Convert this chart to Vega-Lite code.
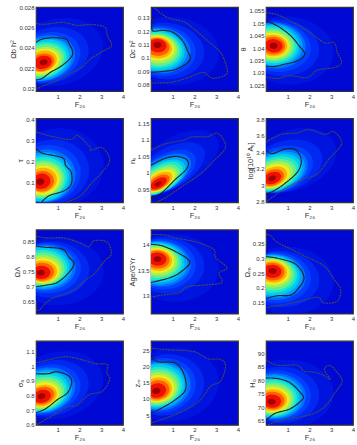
{"$schema":"https://vega.github.io/schema/vega-lite/v6.json","background":"white","padding":{"left":9,"top":3,"right":0,"bottom":0},"columns":3,"bounds":"flush","spacing":{"row":27.3,"column":28},
"config":{"view":{"stroke":"#333","strokeWidth":1.2,"fill":"#0008d4"},"font":"Liberation Sans","range":{"ordinal":["#0014e0","#0028f0","#0040ff","#0070ff","#00a0ff","#00ccf0","#20e8c8","#60f090","#a8f050","#e8f020","#ffb000","#ff6000","#f01000","#a00000"]},"axis":{"grid":false,"domain":false,"ticks":false,"labelFontSize":6,"titleFontSize":7.5,"titleFontWeight":"normal","labelColor":"#333","titleColor":"#333","labelPadding":2,"titlePadding":1,"labelFlush":false}},
"datasets":{
"f1":[{"l":1,"x":1,"y":0.0236},{"l":2,"x":0.7,"y":0.0233},{"l":3,"x":0.5,"y":0.0231},{"l":4,"x":0.4,"y":0.023},{"l":5,"x":0.35,"y":0.0229},{"l":6,"x":0.3,"y":0.0229},{"l":7,"x":0.3,"y":0.0228},{"l":8,"x":0.3,"y":0.0228},{"l":9,"x":0.3,"y":0.0227},{"l":10,"x":0.3,"y":0.0227},{"l":11,"x":0.3,"y":0.0227},{"l":12,"x":0.3,"y":0.0226},{"l":13,"x":0.32,"y":0.0226},{"l":14,"x":0.35,"y":0.0226}],
"c1":[{"c":1,"x":0,"y":0.02454},{"c":1,"x":0.29,"y":0.02487},{"c":1,"x":0.83,"y":0.025},{"c":1,"x":1.36,"y":0.02487},{"c":1,"x":1.55,"y":0.02431},{"c":1,"x":1.69,"y":0.02359},{"c":1,"x":1.56,"y":0.02294},{"c":1,"x":1.13,"y":0.02219},{"c":1,"x":0.67,"y":0.02163},{"c":1,"x":0.29,"y":0.02104},{"c":1,"x":0,"y":0.02088},{"c":2,"x":0,"y":0.02643},{"c":2,"x":0.37,"y":0.0263},{"c":2,"x":1.21,"y":0.0265},{"c":2,"x":1.9,"y":0.0262},{"c":2,"x":2.51,"y":0.0263},{"c":2,"x":3.16,"y":0.02604},{"c":2,"x":3.28,"y":0.02522},{"c":2,"x":3.48,"y":0.02424},{"c":2,"x":3.13,"y":0.02375},{"c":2,"x":2.51,"y":0.02294},{"c":2,"x":2.13,"y":0.02212},{"c":2,"x":1.67,"y":0.02163},{"c":2,"x":0.98,"y":0.02082},{"c":2,"x":0.37,"y":0.02033},{"c":2,"x":0,"y":0.01997}],
"f2":[{"l":1,"x":1,"y":0.105},{"l":2,"x":0.7,"y":0.105},{"l":3,"x":0.5,"y":0.1052},{"l":4,"x":0.4,"y":0.1054},{"l":5,"x":0.35,"y":0.1055},{"l":6,"x":0.3,"y":0.1055},{"l":7,"x":0.3,"y":0.1058},{"l":8,"x":0.3,"y":0.106},{"l":9,"x":0.3,"y":0.1065},{"l":10,"x":0.3,"y":0.107},{"l":11,"x":0.3,"y":0.1075},{"l":12,"x":0.3,"y":0.108},{"l":13,"x":0.3,"y":0.109},{"l":14,"x":0.3,"y":0.1095}],
"c2":[{"c":1,"x":0.09,"y":0.1305},{"c":1,"x":0.06,"y":0.1205},{"c":1,"x":0.52,"y":0.1205},{"c":1,"x":0.98,"y":0.1192},{"c":1,"x":1.44,"y":0.1129},{"c":1,"x":1.67,"y":0.1054},{"c":1,"x":1.79,"y":0.0983},{"c":1,"x":1.21,"y":0.0916},{"c":1,"x":0.6,"y":0.0898},{"c":1,"x":0,"y":0.089},{"c":2,"x":0.14,"y":0.1375},{"c":2,"x":0.52,"y":0.1325},{"c":2,"x":0.9,"y":0.1292},{"c":2,"x":1.52,"y":0.1267},{"c":2,"x":2.05,"y":0.1205},{"c":2,"x":2.67,"y":0.1117},{"c":2,"x":3.2,"y":0.1041},{"c":2,"x":3.43,"y":0.0953},{"c":2,"x":3.48,"y":0.0878},{"c":2,"x":2.9,"y":0.0845},{"c":2,"x":2.62,"y":0.0865},{"c":2,"x":2.36,"y":0.089},{"c":2,"x":1.67,"y":0.0848},{"c":2,"x":0.9,"y":0.0815},{"c":2,"x":0,"y":0.081}],
"f3":[{"l":1,"x":1,"y":1.039},{"l":2,"x":0.7,"y":1.04},{"l":3,"x":0.5,"y":1.0405},{"l":4,"x":0.4,"y":1.041},{"l":5,"x":0.35,"y":1.0412},{"l":6,"x":0.3,"y":1.0412},{"l":7,"x":0.3,"y":1.0412},{"l":8,"x":0.3,"y":1.0412},{"l":9,"x":0.3,"y":1.0411},{"l":10,"x":0.3,"y":1.0411},{"l":11,"x":0.32,"y":1.041},{"l":12,"x":0.33,"y":1.041},{"l":13,"x":0.35,"y":1.0409},{"l":14,"x":0.35,"y":1.0409}],
"c3":[{"c":1,"x":0,"y":1.0508},{"c":1,"x":0.52,"y":1.049},{"c":1,"x":1.13,"y":1.045},{"c":1,"x":1.52,"y":1.0409},{"c":1,"x":1.78,"y":1.0375},{"c":1,"x":1.44,"y":1.0348},{"c":1,"x":0.83,"y":1.0334},{"c":1,"x":0.37,"y":1.0325},{"c":1,"x":0,"y":1.0327},{"c":2,"x":0,"y":1.0543},{"c":2,"x":0.52,"y":1.0535},{"c":2,"x":1.13,"y":1.0508},{"c":2,"x":1.9,"y":1.047},{"c":2,"x":2.67,"y":1.0422},{"c":2,"x":3.13,"y":1.0422},{"c":2,"x":3.28,"y":1.0382},{"c":2,"x":3.48,"y":1.0341},{"c":2,"x":3.13,"y":1.0321},{"c":2,"x":2.36,"y":1.031},{"c":2,"x":1.9,"y":1.028},{"c":2,"x":1.13,"y":1.0288},{"c":2,"x":0.52,"y":1.0277},{"c":2,"x":0,"y":1.0283}],
"f4":[{"l":1,"x":1,"y":0.17},{"l":2,"x":0.7,"y":0.15},{"l":3,"x":0.5,"y":0.14},{"l":4,"x":0.4,"y":0.13},{"l":5,"x":0.35,"y":0.125},{"l":6,"x":0.3,"y":0.12},{"l":7,"x":0.3,"y":0.12},{"l":8,"x":0.3,"y":0.115},{"l":9,"x":0.3,"y":0.115},{"l":10,"x":0.3,"y":0.11},{"l":11,"x":0.3,"y":0.11},{"l":12,"x":0.28,"y":0.105},{"l":13,"x":0.25,"y":0.105},{"l":14,"x":0.2,"y":0.103}],
"c4":[{"c":1,"x":0,"y":0.265},{"c":1,"x":0.29,"y":0.239},{"c":1,"x":1.21,"y":0.217},{"c":1,"x":1.36,"y":0.18},{"c":1,"x":1.62,"y":0.148},{"c":1,"x":1.62,"y":0.092},{"c":1,"x":1.29,"y":0.06},{"c":1,"x":0.6,"y":0.036},{"c":1,"x":0.25,"y":0.005},{"c":2,"x":0,"y":0.341},{"c":2,"x":0.67,"y":0.32},{"c":2,"x":1.59,"y":0.304},{"c":2,"x":1.93,"y":0.323},{"c":2,"x":2.48,"y":0.268},{"c":2,"x":2.51,"y":0.252},{"c":2,"x":3.05,"y":0.265},{"c":2,"x":3.39,"y":0.204},{"c":2,"x":2.97,"y":0.14},{"c":2,"x":2.51,"y":0.092},{"c":2,"x":2.05,"y":0.036},{"c":2,"x":1.36,"y":0.005}],
"f5":[{"l":1,"x":1.2,"y":1.035},{"l":2,"x":0.9,"y":1.015},{"l":3,"x":0.65,"y":1},{"l":4,"x":0.55,"y":0.995},{"l":5,"x":0.5,"y":0.99},{"l":6,"x":0.45,"y":0.985},{"l":7,"x":0.45,"y":0.983},{"l":8,"x":0.42,"y":0.98},{"l":9,"x":0.4,"y":0.977},{"l":10,"x":0.4,"y":0.975},{"l":11,"x":0.38,"y":0.973},{"l":12,"x":0.36,"y":0.97},{"l":13,"x":0.35,"y":0.968},{"l":14,"x":0.33,"y":0.966}],
"c5":[{"c":1,"x":0,"y":1.022},{"c":1,"x":0.6,"y":1.042},{"c":1,"x":1.21,"y":1.049},{"c":1,"x":1.67,"y":1.037},{"c":1,"x":1.64,"y":1.012},{"c":1,"x":1.06,"y":0.976},{"c":1,"x":0.52,"y":0.94},{"c":1,"x":0,"y":0.921},{"c":2,"x":0,"y":1.068},{"c":2,"x":0.6,"y":1.086},{"c":2,"x":1.52,"y":1.099},{"c":2,"x":1.9,"y":1.109},{"c":2,"x":2.59,"y":1.109},{"c":2,"x":3.08,"y":1.119},{"c":2,"x":3.43,"y":1.078},{"c":2,"x":2.9,"y":1.037},{"c":2,"x":2.28,"y":0.996},{"c":2,"x":1.36,"y":0.955},{"c":2,"x":0.67,"y":0.924},{"c":2,"x":0.21,"y":0.91}],
"f6":[{"l":1,"x":1.2,"y":3.3},{"l":2,"x":0.9,"y":3.23},{"l":3,"x":0.65,"y":3.19},{"l":4,"x":0.55,"y":3.17},{"l":5,"x":0.5,"y":3.16},{"l":6,"x":0.45,"y":3.15},{"l":7,"x":0.42,"y":3.14},{"l":8,"x":0.4,"y":3.13},{"l":9,"x":0.38,"y":3.12},{"l":10,"x":0.35,"y":3.11},{"l":11,"x":0.33,"y":3.1},{"l":12,"x":0.3,"y":3.09},{"l":13,"x":0.3,"y":3.085},{"l":14,"x":0.28,"y":3.08}],
"c6":[{"c":1,"x":0,"y":3.429},{"c":1,"x":0.29,"y":3.38},{"c":1,"x":0.83,"y":3.433},{"c":1,"x":1.36,"y":3.429},{"c":1,"x":1.62,"y":3.298},{"c":1,"x":1.44,"y":3.155},{"c":1,"x":0.83,"y":3.012},{"c":1,"x":0.37,"y":2.931},{"c":1,"x":0,"y":2.89},{"c":2,"x":0,"y":3.522},{"c":2,"x":0.67,"y":3.612},{"c":2,"x":1.44,"y":3.633},{"c":2,"x":1.98,"y":3.673},{"c":2,"x":2.67,"y":3.616},{"c":2,"x":3.13,"y":3.645},{"c":2,"x":3.48,"y":3.502},{"c":2,"x":2.9,"y":3.318},{"c":2,"x":2.36,"y":3.135},{"c":2,"x":1.75,"y":3.073},{"c":2,"x":0.83,"y":2.951},{"c":2,"x":0,"y":2.792}],
"f7":[{"l":1,"x":1,"y":0.75},{"l":2,"x":0.7,"y":0.755},{"l":3,"x":0.5,"y":0.76},{"l":4,"x":0.4,"y":0.762},{"l":5,"x":0.35,"y":0.762},{"l":6,"x":0.3,"y":0.762},{"l":7,"x":0.3,"y":0.76},{"l":8,"x":0.3,"y":0.758},{"l":9,"x":0.3,"y":0.755},{"l":10,"x":0.3,"y":0.752},{"l":11,"x":0.3,"y":0.75},{"l":12,"x":0.28,"y":0.748},{"l":13,"x":0.25,"y":0.746},{"l":14,"x":0.22,"y":0.745}],
"c7":[{"c":1,"x":0,"y":0.835},{"c":1,"x":0.37,"y":0.83},{"c":1,"x":1.21,"y":0.824},{"c":1,"x":1.52,"y":0.796},{"c":1,"x":1.75,"y":0.776},{"c":1,"x":1.52,"y":0.746},{"c":1,"x":0.98,"y":0.712},{"c":1,"x":0.44,"y":0.703},{"c":1,"x":0,"y":0.698},{"c":2,"x":0,"y":0.867},{"c":2,"x":0.52,"y":0.861},{"c":2,"x":1.29,"y":0.861},{"c":2,"x":2.05,"y":0.843},{"c":2,"x":2.43,"y":0.832},{"c":2,"x":2.67,"y":0.852},{"c":2,"x":3.28,"y":0.847},{"c":2,"x":3.46,"y":0.807},{"c":2,"x":3.16,"y":0.785},{"c":2,"x":2.74,"y":0.746},{"c":2,"x":2.28,"y":0.72},{"c":2,"x":1.67,"y":0.684},{"c":2,"x":0.67,"y":0.656},{"c":2,"x":0.18,"y":0.622},{"c":2,"x":0,"y":0.619}],
"f8":[{"l":1,"x":1,"y":13.55},{"l":2,"x":0.7,"y":13.6},{"l":3,"x":0.5,"y":13.62},{"l":4,"x":0.4,"y":13.63},{"l":5,"x":0.35,"y":13.64},{"l":6,"x":0.3,"y":13.65},{"l":7,"x":0.3,"y":13.66},{"l":8,"x":0.3,"y":13.67},{"l":9,"x":0.3,"y":13.68},{"l":10,"x":0.3,"y":13.69},{"l":11,"x":0.3,"y":13.7},{"l":12,"x":0.3,"y":13.71},{"l":13,"x":0.3,"y":13.72},{"l":14,"x":0.3,"y":13.72}],
"c8":[{"c":1,"x":0,"y":14.01},{"c":1,"x":0.52,"y":13.98},{"c":1,"x":1.21,"y":13.85},{"c":1,"x":1.78,"y":13.67},{"c":1,"x":1.44,"y":13.49},{"c":1,"x":0.9,"y":13.36},{"c":1,"x":0,"y":13.26},{"c":2,"x":0,"y":14.2},{"c":2,"x":0.52,"y":14.2},{"c":2,"x":1.21,"y":14.13},{"c":2,"x":2.13,"y":14.05},{"c":2,"x":2.89,"y":13.91},{"c":2,"x":2.97,"y":13.75},{"c":2,"x":3.5,"y":13.55},{"c":2,"x":3.13,"y":13.45},{"c":2,"x":3.25,"y":13.26},{"c":2,"x":2.44,"y":13.21},{"c":2,"x":1.67,"y":13.18},{"c":2,"x":1.29,"y":13.06},{"c":2,"x":0.44,"y":13.01},{"c":2,"x":0,"y":12.97}],
"f9":[{"l":1,"x":1,"y":0.225},{"l":2,"x":0.7,"y":0.23},{"l":3,"x":0.5,"y":0.235},{"l":4,"x":0.4,"y":0.237},{"l":5,"x":0.35,"y":0.24},{"l":6,"x":0.3,"y":0.242},{"l":7,"x":0.3,"y":0.245},{"l":8,"x":0.3,"y":0.247},{"l":9,"x":0.3,"y":0.25},{"l":10,"x":0.3,"y":0.252},{"l":11,"x":0.3,"y":0.254},{"l":12,"x":0.3,"y":0.255},{"l":13,"x":0.3,"y":0.256},{"l":14,"x":0.3,"y":0.257}],
"c9":[{"c":1,"x":0,"y":0.305},{"c":1,"x":0.52,"y":0.3},{"c":1,"x":1.36,"y":0.28},{"c":1,"x":1.75,"y":0.235},{"c":1,"x":1.44,"y":0.195},{"c":1,"x":1.13,"y":0.176},{"c":1,"x":0.52,"y":0.174},{"c":1,"x":0,"y":0.165},{"c":2,"x":0,"y":0.379},{"c":2,"x":0.21,"y":0.376},{"c":2,"x":0.52,"y":0.353},{"c":2,"x":1.13,"y":0.331},{"c":2,"x":1.9,"y":0.303},{"c":2,"x":2.67,"y":0.274},{"c":2,"x":3.13,"y":0.229},{"c":2,"x":3.43,"y":0.195},{"c":2,"x":3.28,"y":0.156},{"c":2,"x":2.67,"y":0.15},{"c":2,"x":2.36,"y":0.169},{"c":2,"x":1.59,"y":0.156},{"c":2,"x":0.67,"y":0.142},{"c":2,"x":0,"y":0.135}],
"f10":[{"l":1,"x":1,"y":0.87},{"l":2,"x":0.7,"y":0.85},{"l":3,"x":0.5,"y":0.84},{"l":4,"x":0.4,"y":0.835},{"l":5,"x":0.35,"y":0.83},{"l":6,"x":0.3,"y":0.825},{"l":7,"x":0.3,"y":0.82},{"l":8,"x":0.3,"y":0.815},{"l":9,"x":0.3,"y":0.81},{"l":10,"x":0.3,"y":0.805},{"l":11,"x":0.3,"y":0.8},{"l":12,"x":0.3,"y":0.8},{"l":13,"x":0.28,"y":0.795},{"l":14,"x":0.25,"y":0.795}],
"c10":[{"c":1,"x":0,"y":0.949},{"c":1,"x":0.52,"y":0.949},{"c":1,"x":0.98,"y":0.962},{"c":1,"x":1.52,"y":0.933},{"c":1,"x":1.64,"y":0.887},{"c":1,"x":1.44,"y":0.818},{"c":1,"x":0.98,"y":0.772},{"c":1,"x":0.44,"y":0.71},{"c":1,"x":0,"y":0.683},{"c":2,"x":0,"y":1.024},{"c":2,"x":0.67,"y":1.047},{"c":2,"x":1.36,"y":1.066},{"c":2,"x":2.05,"y":1.047},{"c":2,"x":2.74,"y":1.017},{"c":2,"x":3.28,"y":1.013},{"c":2,"x":3.25,"y":0.956},{"c":2,"x":3.39,"y":0.91},{"c":2,"x":3.05,"y":0.829},{"c":2,"x":2.44,"y":0.806},{"c":2,"x":1.9,"y":0.733},{"c":2,"x":1.52,"y":0.726},{"c":2,"x":0.83,"y":0.669},{"c":2,"x":0,"y":0.6}],
"f11":[{"l":1,"x":1,"y":14.5},{"l":2,"x":0.7,"y":14.3},{"l":3,"x":0.5,"y":14.2},{"l":4,"x":0.4,"y":14.1},{"l":5,"x":0.35,"y":14},{"l":6,"x":0.3,"y":14},{"l":7,"x":0.3,"y":13.8},{"l":8,"x":0.3,"y":13.6},{"l":9,"x":0.3,"y":13.4},{"l":10,"x":0.3,"y":13.2},{"l":11,"x":0.3,"y":13},{"l":12,"x":0.3,"y":12.8},{"l":13,"x":0.28,"y":12.6},{"l":14,"x":0.25,"y":12.5}],
"c11":[{"c":1,"x":0.03,"y":23.2},{"c":1,"x":0.29,"y":21.5},{"c":1,"x":1.13,"y":21},{"c":1,"x":1.52,"y":17.5},{"c":1,"x":1.59,"y":12.9},{"c":1,"x":1.13,"y":9.8},{"c":1,"x":0.44,"y":7},{"c":1,"x":0,"y":5.7},{"c":2,"x":0,"y":25.6},{"c":2,"x":0.9,"y":25.1},{"c":2,"x":1.98,"y":24.6},{"c":2,"x":2.62,"y":22.4},{"c":2,"x":3.2,"y":22.2},{"c":2,"x":3.43,"y":20.1},{"c":2,"x":3.2,"y":15.5},{"c":2,"x":2.74,"y":13.9},{"c":2,"x":2.28,"y":9.8},{"c":2,"x":1.75,"y":7.2},{"c":2,"x":0.9,"y":4.6},{"c":2,"x":0,"y":2.6}],
"f12":[{"l":1,"x":1,"y":75},{"l":2,"x":0.7,"y":74.5},{"l":3,"x":0.5,"y":74.2},{"l":4,"x":0.4,"y":74},{"l":5,"x":0.35,"y":73.8},{"l":6,"x":0.3,"y":73.6},{"l":7,"x":0.3,"y":73.4},{"l":8,"x":0.3,"y":73.2},{"l":9,"x":0.3,"y":73},{"l":10,"x":0.3,"y":72.8},{"l":11,"x":0.3,"y":72.6},{"l":12,"x":0.3,"y":72.4},{"l":13,"x":0.28,"y":72.2},{"l":14,"x":0.25,"y":72}],
"c12":[{"c":1,"x":0,"y":80.8},{"c":1,"x":0.57,"y":80.5},{"c":1,"x":1.12,"y":78.9},{"c":1,"x":1.66,"y":74.6},{"c":1,"x":1.66,"y":72.7},{"c":1,"x":1.12,"y":69.4},{"c":1,"x":0.42,"y":67.7},{"c":1,"x":0,"y":65},{"c":2,"x":0,"y":87.6},{"c":2,"x":0.5,"y":85.5},{"c":2,"x":1.43,"y":85.5},{"c":2,"x":1.74,"y":83.3},{"c":2,"x":2.12,"y":83},{"c":2,"x":2.6,"y":82},{"c":2,"x":2.96,"y":80.2},{"c":2,"x":2.68,"y":83.9},{"c":2,"x":2.92,"y":85.4},{"c":2,"x":3.23,"y":83.3},{"c":2,"x":3.5,"y":79.6},{"c":2,"x":3.16,"y":75.2},{"c":2,"x":2.7,"y":70.2},{"c":2,"x":2,"y":67.1},{"c":2,"x":0.73,"y":65.2},{"c":2,"x":0,"y":63.1}]
},
"concat":[
{"width":87,"height":84,"layer":[{"data":{"name":"f1"},"mark":{"type":"point","filled":true,"opacity":1,"clip":true,"shape":"M0.966 -0.259 C1.069 0.125 0.72 0.553 0.186 0.696 C-0.348 0.839 -0.863 0.643 -0.966 0.259 C-1.069 -0.125 -0.72 -0.553 -0.186 -0.696 C0.348 -0.839 0.863 -0.643 0.966 -0.259 Z"},"encoding":{"x":{"field":"x","type":"quantitative","scale":{"domain":[0,4],"nice":false},"axis":{"format":"d","tickCount":20,"values":[1,2,3,4],"title":"F₂₆"}},"y":{"field":"y","type":"quantitative","scale":{"domain":[0.0198,0.028],"nice":false,"zero":false},"axis":{"tickCount":20,"values":[0.02,0.022,0.024,0.026,0.028],"format":".3~f","title":"Ωb h²"}},"size":{"field":"l","type":"ordinal","scale":{"type":"ordinal","range":[8464,5776,4624,3844,3364,2916,2401,1936,1521,1156,841,576,324,64]},"legend":null},"color":{"field":"l","type":"ordinal","legend":null}}},{"data":{"name":"c1"},"mark":{"type":"line","interpolate":"cardinal","clip":true,"strokeWidth":1.1},"encoding":{"x":{"field":"x","type":"quantitative"},"y":{"field":"y","type":"quantitative"},"order":{"value":null},"stroke":{"field":"c","type":"nominal","scale":{"range":["#222","#4a4a50"]},"legend":null},"strokeDash":{"field":"c","type":"nominal","scale":{"range":[[1,0],[2,0.8]]},"legend":null}}}]},
{"width":87,"height":84,"layer":[{"data":{"name":"f2"},"mark":{"type":"point","filled":true,"opacity":1,"clip":true,"shape":"M0.996 0.087 C0.96 0.494 0.486 0.785 -0.064 0.737 C-0.614 0.689 -1.032 0.32 -0.996 -0.087 C-0.96 -0.494 -0.486 -0.785 0.064 -0.737 C0.614 -0.689 1.032 -0.32 0.996 0.087 Z"},"encoding":{"x":{"field":"x","type":"quantitative","scale":{"domain":[0,4],"nice":false},"axis":{"format":"d","tickCount":20,"values":[1,2,3,4],"title":"F₂₆"}},"y":{"field":"y","type":"quantitative","scale":{"domain":[0.075,0.138],"nice":false,"zero":false},"axis":{"tickCount":20,"values":[0.08,0.09,0.1,0.11,0.12,0.13],"format":".2~f","title":"Ωc h²"}},"size":{"field":"l","type":"ordinal","scale":{"type":"ordinal","range":[8464,5776,4624,3844,3364,2916,2401,1936,1521,1156,841,576,324,64]},"legend":null},"color":{"field":"l","type":"ordinal","legend":null}}},{"data":{"name":"c2"},"mark":{"type":"line","interpolate":"cardinal","clip":true,"strokeWidth":1.1},"encoding":{"x":{"field":"x","type":"quantitative"},"y":{"field":"y","type":"quantitative"},"order":{"value":null},"stroke":{"field":"c","type":"nominal","scale":{"range":["#222","#4a4a50"]},"legend":null},"strokeDash":{"field":"c","type":"nominal","scale":{"range":[[1,0],[2,0.8]]},"legend":null}}}]},
{"width":87,"height":84,"layer":[{"data":{"name":"f3"},"mark":{"type":"point","filled":true,"opacity":1,"clip":true,"shape":"M0.996 0.087 C0.96 0.494 0.486 0.785 -0.064 0.737 C-0.614 0.689 -1.032 0.32 -0.996 -0.087 C-0.96 -0.494 -0.486 -0.785 0.064 -0.737 C0.614 -0.689 1.032 -0.32 0.996 0.087 Z"},"encoding":{"x":{"field":"x","type":"quantitative","scale":{"domain":[0,4],"nice":false},"axis":{"format":"d","tickCount":20,"values":[1,2,3,4],"title":"F₂₆"}},"y":{"field":"y","type":"quantitative","scale":{"domain":[1.0226,1.0566],"nice":false,"zero":false},"axis":{"tickCount":20,"values":[1.025,1.03,1.035,1.04,1.045,1.05,1.055],"format":".3~f","title":"θ"}},"size":{"field":"l","type":"ordinal","scale":{"type":"ordinal","range":[8464,5776,4624,3844,3364,2916,2401,1936,1521,1156,841,576,324,64]},"legend":null},"color":{"field":"l","type":"ordinal","legend":null}}},{"data":{"name":"c3"},"mark":{"type":"line","interpolate":"cardinal","clip":true,"strokeWidth":1.1},"encoding":{"x":{"field":"x","type":"quantitative"},"y":{"field":"y","type":"quantitative"},"order":{"value":null},"stroke":{"field":"c","type":"nominal","scale":{"range":["#222","#4a4a50"]},"legend":null},"strokeDash":{"field":"c","type":"nominal","scale":{"range":[[1,0],[2,0.8]]},"legend":null}}}]},
{"width":87,"height":84,"layer":[{"data":{"name":"f4"},"mark":{"type":"point","filled":true,"opacity":1,"clip":true,"shape":"M0.985 -0.174 C1.067 0.288 0.692 0.741 0.148 0.837 C-0.396 0.933 -0.903 0.636 -0.985 0.174 C-1.067 -0.288 -0.692 -0.741 -0.148 -0.837 C0.396 -0.933 0.903 -0.636 0.985 -0.174 Z"},"encoding":{"x":{"field":"x","type":"quantitative","scale":{"domain":[0,4],"nice":false},"axis":{"format":"d","tickCount":20,"values":[1,2,3,4],"title":"F₂₆"}},"y":{"field":"y","type":"quantitative","scale":{"domain":[0.005,0.405],"nice":false,"zero":false},"axis":{"tickCount":20,"values":[0.1,0.2,0.3,0.4],"format":".1f","title":"τ"}},"size":{"field":"l","type":"ordinal","scale":{"type":"ordinal","range":[8464,5776,4624,3844,3364,2916,2401,1936,1521,1156,841,576,324,64]},"legend":null},"color":{"field":"l","type":"ordinal","legend":null}}},{"data":{"name":"c4"},"mark":{"type":"line","interpolate":"cardinal","clip":true,"strokeWidth":1.1},"encoding":{"x":{"field":"x","type":"quantitative"},"y":{"field":"y","type":"quantitative"},"order":{"value":null},"stroke":{"field":"c","type":"nominal","scale":{"range":["#222","#4a4a50"]},"legend":null},"strokeDash":{"field":"c","type":"nominal","scale":{"range":[[1,0],[2,0.8]]},"legend":null}}}]},
{"width":87,"height":84,"layer":[{"data":{"name":"f5"},"mark":{"type":"point","filled":true,"opacity":1,"clip":true,"shape":"M0.866 -0.5 C1.01 -0.251 0.738 0.174 0.26 0.45 C-0.218 0.726 -0.722 0.749 -0.866 0.5 C-1.01 0.251 -0.738 -0.174 -0.26 -0.45 C0.218 -0.726 0.722 -0.749 0.866 -0.5 Z"},"encoding":{"x":{"field":"x","type":"quantitative","scale":{"domain":[0,4],"nice":false},"axis":{"format":"d","tickCount":20,"values":[1,2,3,4],"title":"F₂₆"}},"y":{"field":"y","type":"quantitative","scale":{"domain":[0.91,1.165],"nice":false,"zero":false},"axis":{"tickCount":20,"values":[0.95,1,1.05,1.1,1.15],"format":".2~f","title":"nₛ"}},"size":{"field":"l","type":"ordinal","scale":{"type":"ordinal","range":[8464,5776,4624,3844,3364,2916,2401,1936,1521,1156,841,576,324,64]},"legend":null},"color":{"field":"l","type":"ordinal","legend":null}}},{"data":{"name":"c5"},"mark":{"type":"line","interpolate":"cardinal","clip":true,"strokeWidth":1.1},"encoding":{"x":{"field":"x","type":"quantitative"},"y":{"field":"y","type":"quantitative"},"order":{"value":null},"stroke":{"field":"c","type":"nominal","scale":{"range":["#222","#4a4a50"]},"legend":null},"strokeDash":{"field":"c","type":"nominal","scale":{"range":[[1,0],[2,0.8]]},"legend":null}}}]},
{"width":87,"height":84,"layer":[{"data":{"name":"f6"},"mark":{"type":"point","filled":true,"opacity":1,"clip":true,"shape":"M0.94 -0.342 C1.063 -0.005 0.741 0.422 0.222 0.611 C-0.297 0.8 -0.817 0.679 -0.94 0.342 C-1.063 0.005 -0.741 -0.422 -0.222 -0.611 C0.297 -0.8 0.817 -0.679 0.94 -0.342 Z"},"encoding":{"x":{"field":"x","type":"quantitative","scale":{"domain":[0,4],"nice":false},"axis":{"format":"d","tickCount":20,"values":[1,2,3,4],"title":"F₂₆"}},"y":{"field":"y","type":"quantitative","scale":{"domain":[2.79,3.81],"nice":false,"zero":false},"axis":{"tickCount":20,"values":[2.8,3,3.2,3.4,3.6,3.8],"format":".1~f","title":"log[10¹⁰ Aₛ]"}},"size":{"field":"l","type":"ordinal","scale":{"type":"ordinal","range":[8464,5776,4624,3844,3364,2916,2401,1936,1521,1156,841,576,324,64]},"legend":null},"color":{"field":"l","type":"ordinal","legend":null}}},{"data":{"name":"c6"},"mark":{"type":"line","interpolate":"cardinal","clip":true,"strokeWidth":1.1},"encoding":{"x":{"field":"x","type":"quantitative"},"y":{"field":"y","type":"quantitative"},"order":{"value":null},"stroke":{"field":"c","type":"nominal","scale":{"range":["#222","#4a4a50"]},"legend":null},"strokeDash":{"field":"c","type":"nominal","scale":{"range":[[1,0],[2,0.8]]},"legend":null}}}]},
{"width":87,"height":84,"layer":[{"data":{"name":"f7"},"mark":{"type":"point","filled":true,"opacity":1,"clip":true,"shape":"M1 0 C1 0.409 0.552 0.74 0 0.74 C-0.552 0.74 -1 0.409 -1 0 C-1 -0.409 -0.552 -0.74 0 -0.74 C0.552 -0.74 1 -0.409 1 0 Z"},"encoding":{"x":{"field":"x","type":"quantitative","scale":{"domain":[0,4],"nice":false},"axis":{"format":"d","tickCount":20,"values":[1,2,3,4],"title":"F₂₆"}},"y":{"field":"y","type":"quantitative","scale":{"domain":[0.608,0.889],"nice":false,"zero":false},"axis":{"tickCount":20,"values":[0.65,0.7,0.75,0.8,0.85],"format":".2~f","title":"ΩΛ"}},"size":{"field":"l","type":"ordinal","scale":{"type":"ordinal","range":[8464,5776,4624,3844,3364,2916,2401,1936,1521,1156,841,576,324,64]},"legend":null},"color":{"field":"l","type":"ordinal","legend":null}}},{"data":{"name":"c7"},"mark":{"type":"line","interpolate":"cardinal","clip":true,"strokeWidth":1.1},"encoding":{"x":{"field":"x","type":"quantitative"},"y":{"field":"y","type":"quantitative"},"order":{"value":null},"stroke":{"field":"c","type":"nominal","scale":{"range":["#222","#4a4a50"]},"legend":null},"strokeDash":{"field":"c","type":"nominal","scale":{"range":[[1,0],[2,0.8]]},"legend":null}}}]},
{"width":87,"height":84,"layer":[{"data":{"name":"f8"},"mark":{"type":"point","filled":true,"opacity":1,"clip":true,"shape":"M0.999 0.052 C0.978 0.461 0.514 0.768 -0.038 0.739 C-0.59 0.71 -1.02 0.357 -0.999 -0.052 C-0.978 -0.461 -0.514 -0.768 0.038 -0.739 C0.59 -0.71 1.02 -0.357 0.999 0.052 Z"},"encoding":{"x":{"field":"x","type":"quantitative","scale":{"domain":[0,4],"nice":false},"axis":{"format":"d","tickCount":20,"values":[1,2,3,4],"title":"F₂₆"}},"y":{"field":"y","type":"quantitative","scale":{"domain":[12.65,14.3],"nice":false,"zero":false},"axis":{"tickCount":20,"values":[13,13.5,14],"format":".1~f","title":"Age/GYr"}},"size":{"field":"l","type":"ordinal","scale":{"type":"ordinal","range":[8464,5776,4624,3844,3364,2916,2401,1936,1521,1156,841,576,324,64]},"legend":null},"color":{"field":"l","type":"ordinal","legend":null}}},{"data":{"name":"c8"},"mark":{"type":"line","interpolate":"cardinal","clip":true,"strokeWidth":1.1},"encoding":{"x":{"field":"x","type":"quantitative"},"y":{"field":"y","type":"quantitative"},"order":{"value":null},"stroke":{"field":"c","type":"nominal","scale":{"range":["#222","#4a4a50"]},"legend":null},"strokeDash":{"field":"c","type":"nominal","scale":{"range":[[1,0],[2,0.8]]},"legend":null}}}]},
{"width":87,"height":84,"layer":[{"data":{"name":"f9"},"mark":{"type":"point","filled":true,"opacity":1,"clip":true,"shape":"M0.999 0.052 C0.978 0.461 0.514 0.768 -0.038 0.739 C-0.59 0.71 -1.02 0.357 -0.999 -0.052 C-0.978 -0.461 -0.514 -0.768 0.038 -0.739 C0.59 -0.71 1.02 -0.357 0.999 0.052 Z"},"encoding":{"x":{"field":"x","type":"quantitative","scale":{"domain":[0,4],"nice":false},"axis":{"format":"d","tickCount":20,"values":[1,2,3,4],"title":"F₂₆"}},"y":{"field":"y","type":"quantitative","scale":{"domain":[0.114,0.396],"nice":false,"zero":false},"axis":{"tickCount":20,"values":[0.15,0.2,0.25,0.3,0.35],"format":".2~f","title":"Ωₘ"}},"size":{"field":"l","type":"ordinal","scale":{"type":"ordinal","range":[8464,5776,4624,3844,3364,2916,2401,1936,1521,1156,841,576,324,64]},"legend":null},"color":{"field":"l","type":"ordinal","legend":null}}},{"data":{"name":"c9"},"mark":{"type":"line","interpolate":"cardinal","clip":true,"strokeWidth":1.1},"encoding":{"x":{"field":"x","type":"quantitative"},"y":{"field":"y","type":"quantitative"},"order":{"value":null},"stroke":{"field":"c","type":"nominal","scale":{"range":["#222","#4a4a50"]},"legend":null},"strokeDash":{"field":"c","type":"nominal","scale":{"range":[[1,0],[2,0.8]]},"legend":null}}}]},
{"width":87,"height":84,"layer":[{"data":{"name":"f10"},"mark":{"type":"point","filled":true,"opacity":1,"clip":true,"shape":"M0.966 -0.259 C1.069 0.125 0.72 0.553 0.186 0.696 C-0.348 0.839 -0.863 0.643 -0.966 0.259 C-1.069 -0.125 -0.72 -0.553 -0.186 -0.696 C0.348 -0.839 0.863 -0.643 0.966 -0.259 Z"},"encoding":{"x":{"field":"x","type":"quantitative","scale":{"domain":[0,4],"nice":false},"axis":{"format":"d","tickCount":20,"values":[1,2,3,4],"title":"F₂₆"}},"y":{"field":"y","type":"quantitative","scale":{"domain":[0.6,1.173],"nice":false,"zero":false},"axis":{"tickCount":20,"values":[0.6,0.7,0.8,0.9,1,1.1],"format":".1~f","title":"σ₈"}},"size":{"field":"l","type":"ordinal","scale":{"type":"ordinal","range":[8464,5776,4624,3844,3364,2916,2401,1936,1521,1156,841,576,324,64]},"legend":null},"color":{"field":"l","type":"ordinal","legend":null}}},{"data":{"name":"c10"},"mark":{"type":"line","interpolate":"cardinal","clip":true,"strokeWidth":1.1},"encoding":{"x":{"field":"x","type":"quantitative"},"y":{"field":"y","type":"quantitative"},"order":{"value":null},"stroke":{"field":"c","type":"nominal","scale":{"range":["#222","#4a4a50"]},"legend":null},"strokeDash":{"field":"c","type":"nominal","scale":{"range":[[1,0],[2,0.8]]},"legend":null}}}]},
{"width":87,"height":84,"layer":[{"data":{"name":"f11"},"mark":{"type":"point","filled":true,"opacity":1,"clip":true,"shape":"M0.99 -0.139 C1.051 0.299 0.658 0.715 0.111 0.792 C-0.436 0.869 -0.929 0.577 -0.99 0.139 C-1.051 -0.299 -0.658 -0.715 -0.111 -0.792 C0.436 -0.869 0.929 -0.577 0.99 -0.139 Z"},"encoding":{"x":{"field":"x","type":"quantitative","scale":{"domain":[0,4],"nice":false},"axis":{"format":"d","tickCount":20,"values":[1,2,3,4],"title":"F₂₆"}},"y":{"field":"y","type":"quantitative","scale":{"domain":[2,27.9],"nice":false,"zero":false},"axis":{"tickCount":20,"values":[5,10,15,20,25],"format":"d","title":"zᵣₑ"}},"size":{"field":"l","type":"ordinal","scale":{"type":"ordinal","range":[8464,5776,4624,3844,3364,2916,2401,1936,1521,1156,841,576,324,64]},"legend":null},"color":{"field":"l","type":"ordinal","legend":null}}},{"data":{"name":"c11"},"mark":{"type":"line","interpolate":"cardinal","clip":true,"strokeWidth":1.1},"encoding":{"x":{"field":"x","type":"quantitative"},"y":{"field":"y","type":"quantitative"},"order":{"value":null},"stroke":{"field":"c","type":"nominal","scale":{"range":["#222","#4a4a50"]},"legend":null},"strokeDash":{"field":"c","type":"nominal","scale":{"range":[[1,0],[2,0.8]]},"legend":null}}}]},
{"width":87,"height":84,"layer":[{"data":{"name":"f12"},"mark":{"type":"point","filled":true,"opacity":1,"clip":true,"shape":"M1 0 C1 0.409 0.552 0.74 0 0.74 C-0.552 0.74 -1 0.409 -1 0 C-1 -0.409 -0.552 -0.74 0 -0.74 C0.552 -0.74 1 -0.409 1 0 Z"},"encoding":{"x":{"field":"x","type":"quantitative","scale":{"domain":[0,4],"nice":false},"axis":{"format":"d","tickCount":20,"values":[1,2,3,4],"title":"F₂₆"}},"y":{"field":"y","type":"quantitative","scale":{"domain":[63.4,94.5],"nice":false,"zero":false},"axis":{"tickCount":20,"values":[65,70,75,80,85,90],"format":"d","title":"H₀"}},"size":{"field":"l","type":"ordinal","scale":{"type":"ordinal","range":[8464,5776,4624,3844,3364,2916,2401,1936,1521,1156,841,576,324,64]},"legend":null},"color":{"field":"l","type":"ordinal","legend":null}}},{"data":{"name":"c12"},"mark":{"type":"line","interpolate":"cardinal","clip":true,"strokeWidth":1.1},"encoding":{"x":{"field":"x","type":"quantitative"},"y":{"field":"y","type":"quantitative"},"order":{"value":null},"stroke":{"field":"c","type":"nominal","scale":{"range":["#222","#4a4a50"]},"legend":null},"strokeDash":{"field":"c","type":"nominal","scale":{"range":[[1,0],[2,0.8]]},"legend":null}}}]}
]}
